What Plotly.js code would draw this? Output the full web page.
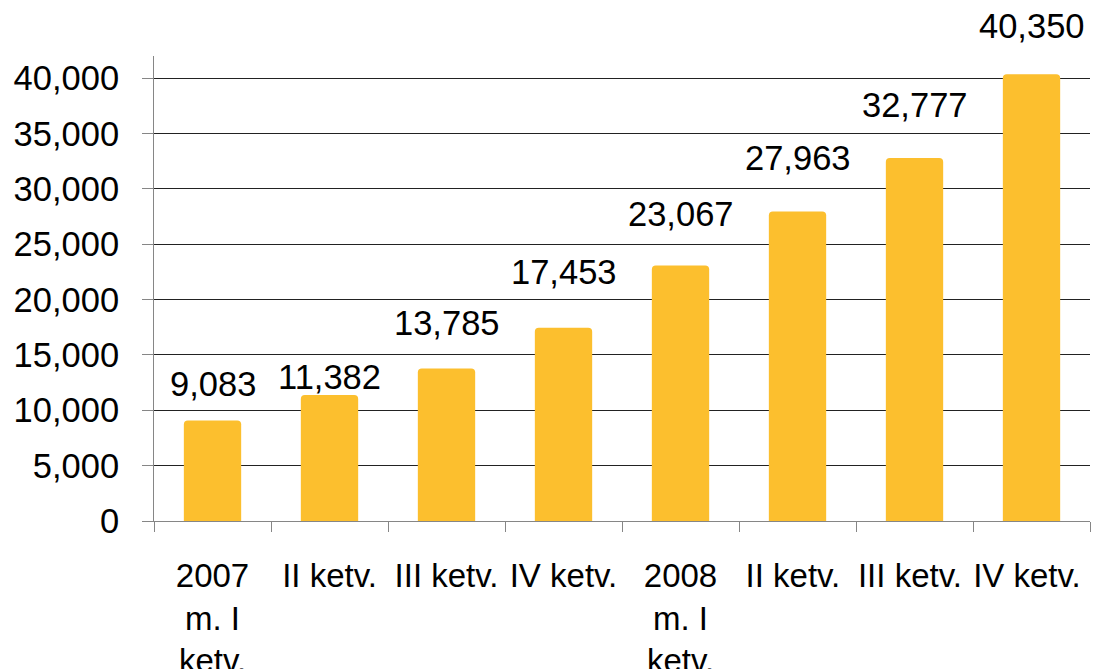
<!DOCTYPE html>
<html>
<head>
<meta charset="utf-8">
<script src="https://cdn.plot.ly/plotly-3.0.1.min.js"></script>
<style>
  html, body { margin: 0; padding: 0; background: #fff; }
  #chart { width: 1100px; height: 669px; }
</style>
</head>
<body>
<div id="chart"></div>
<script>
const quarters = [
  "2007<br>m. I<br>ketv.",
  "II ketv.",
  "III ketv.",
  "IV ketv.",
  "2008<br>m. I<br>ketv.",
  "II ketv. ",
  "III ketv. ",
  "IV ketv. "
];
const values = [9083, 11382, 13785, 17453, 23067, 27963, 32777, 40350];
const yTicks = [0, 5000, 10000, 15000, 20000, 25000, 30000, 35000, 40000];

// label lift above each bar top, in px (the source placed them by hand)
const labelLift = [36, 18, 45, 56, 52, 53, 53, 48];

const barColor = "#fcbf2e";
const fontFamily = "'Liberation Sans', Arial, sans-serif";
const fontSize = 34.5;

const trace = {
  type: "bar",
  x: quarters,
  y: values,
  width: 0.49,
  marker: { color: barColor, cornerradius: 4, line: { width: 0 } },
  hoverinfo: "skip"
};

const annotations = values.map((v, i) => ({
  x: quarters[i],
  y: v,
  xref: "x",
  yref: "y",
  text: v.toLocaleString("en-US"),
  showarrow: false,
  yanchor: "middle",
  yshift: labelLift[i],
  font: { family: fontFamily, size: fontSize, color: "#000" }
}));

Plotly.newPlot("chart", [trace], {
  width: 1100,
  height: 669,
  margin: { t: 56, r: 10, l: 154, b: 148 },
  paper_bgcolor: "#fff",
  plot_bgcolor: "#fff",
  font: { family: fontFamily, size: fontSize, color: "#000" },
  showlegend: false,
  xaxis: {
    type: "category",
    tickangle: 0,
    ticks: "outside",
    tickson: "boundaries",
    ticklen: 10,
    tickcolor: "#868686",
    tickwidth: 1,
    showline: true,
    linecolor: "#868686",
    linewidth: 1,
    showgrid: false,
    ticklabelstandoff: 25,
    tickfont: { family: fontFamily, size: 33, color: "#000" }
  },
  yaxis: {
    range: [0, 42000],
    tickmode: "array",
    tickvals: yTicks,
    ticktext: yTicks.map((t) => t.toLocaleString("en-US")),
    ticks: "outside",
    ticklen: 11,
    tickcolor: "#868686",
    tickwidth: 1,
    showline: true,
    linecolor: "#868686",
    linewidth: 1,
    showgrid: true,
    gridcolor: "#222",
    gridwidth: 1,
    zeroline: false,
    ticklabelstandoff: 16,
    tickfont: { family: fontFamily, size: fontSize, color: "#000" }
  },
  annotations
}, { staticPlot: true });
</script>
</body>
</html>
